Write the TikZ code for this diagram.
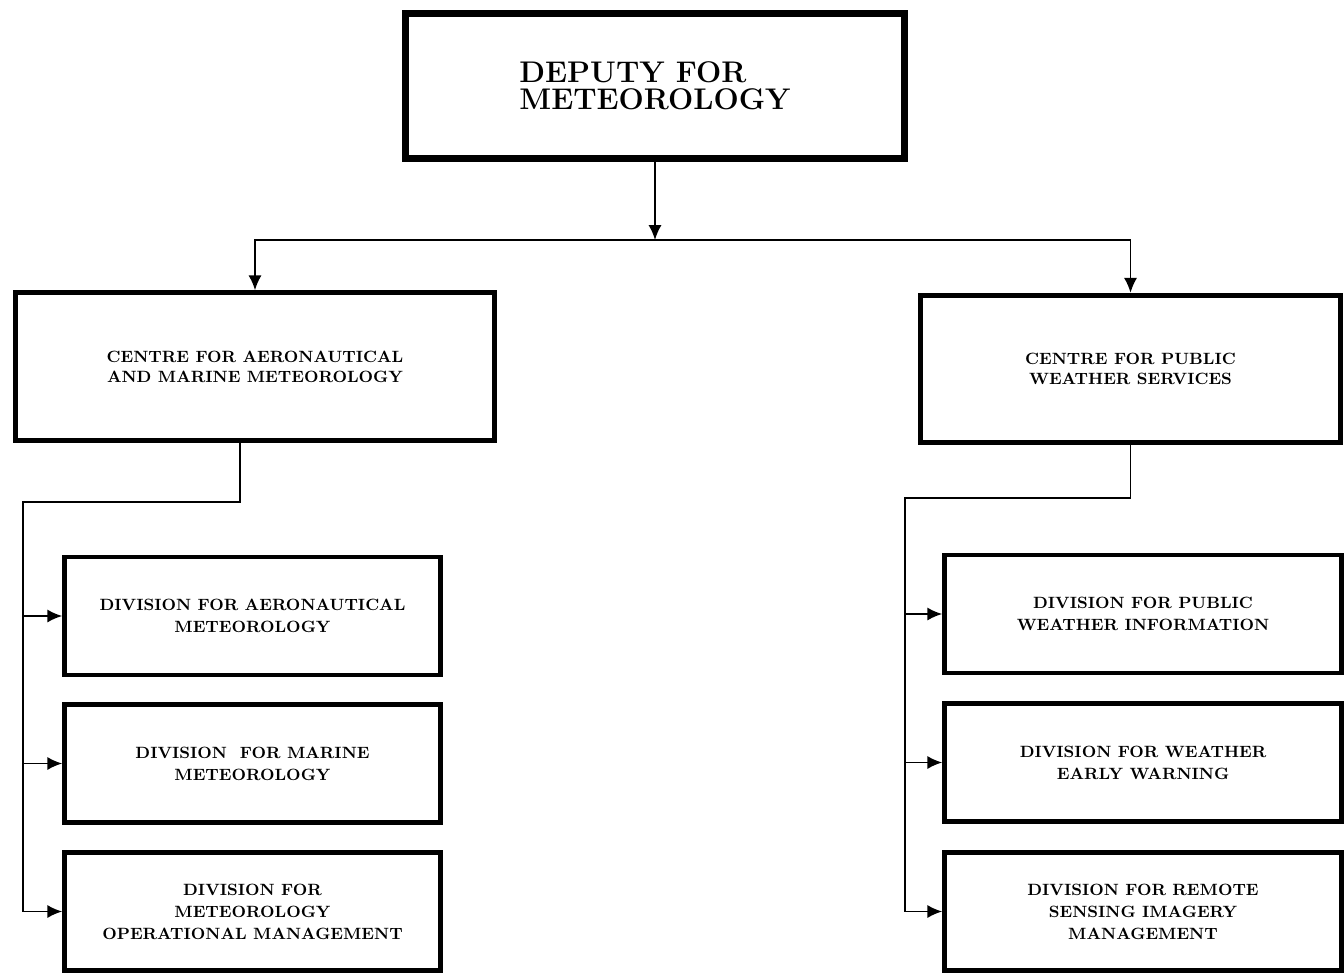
\documentclass[tikz,border=0pt]{standalone}
\usepackage{tikz}
\usetikzlibrary{arrows.meta,positioning}
\tikzstyle{arrow} = [line width=1.1pt,-{Latex[length=8.5pt,width=7.5pt]},color=black]
\tikzstyle{link} = [line width=1.1pt,color=black]
\tikzstyle{topnode} = [rectangle, draw=black, line width=4pt, minimum width=9.98cm, minimum height=2.9cm, inner sep=0pt, align=left, font=\fontsize{17}{15.5}\selectfont\bfseries]
\tikzstyle{centrenode} = [rectangle, draw=black, line width=2.8pt, minimum height=2.95cm, inner sep=0pt, align=center, font=\fontsize{9.3}{11.5}\selectfont\bfseries]
\tikzstyle{divnode} = [rectangle, draw=black, line width=2.6pt, minimum height=2.36cm, inner sep=0pt, align=center, font=\fontsize{9.3}{12.5}\selectfont\bfseries]

\begin{document}
\begin{tikzpicture}[x=0.02cm, y=-0.02cm]
\useasboundingbox (0,0) rectangle (1344,977);

% Deputy
\node[topnode] (deputy) at (655,86) {DEPUTY FOR\\METEOROLOGY};

% Centres
\node[centrenode, minimum width=9.58cm] (aeromar) at (255,366.5) {CENTRE FOR AERONAUTICAL\\AND MARINE METEOROLOGY};
\node[centrenode, minimum width=8.4cm] (pubweather) at (1130.5,369) {CENTRE FOR PUBLIC\\WEATHER SERVICES};

% Divisions (left)
\node[divnode, minimum width=7.52cm] (aerodiv) at (252.5,616) {DIVISION FOR AERONAUTICAL\\METEOROLOGY};
\node[divnode, minimum width=7.52cm] (marinediv) at (252.5,763.5) {DIVISION\ \ FOR MARINE\\METEOROLOGY};
\node[divnode, minimum width=7.52cm] (opsdiv) at (252.5,911.5) {DIVISION FOR\\METEOROLOGY\\OPERATIONAL MANAGEMENT};

% Divisions (right)
\node[divnode, minimum width=7.94cm] (pubinfodiv) at (1143,614) {DIVISION FOR PUBLIC\\WEATHER INFORMATION};
\node[divnode, minimum width=7.94cm] (warndiv) at (1143,762.5) {DIVISION FOR WEATHER\\EARLY WARNING};
\node[divnode, minimum width=7.94cm] (imagerydiv) at (1143,911.5) {DIVISION FOR REMOTE\\SENSING IMAGERY\\MANAGEMENT};

% Connectors
\coordinate (split) at (655,240);
\coordinate (ltap) at (240,443);
\coordinate (lbus) at (23,502);
\coordinate (rbus) at (905,498);

\draw[arrow] (deputy) -- (split);
\draw[arrow] (split) -| (aeromar);
\draw[arrow] (split) -| (pubweather);

\draw[link] (ltap) |- (lbus) -- (lbus |- opsdiv);
\draw[arrow] (lbus |- aerodiv) -- (aerodiv);
\draw[arrow] (lbus |- marinediv) -- (marinediv);
\draw[arrow] (lbus |- opsdiv) -- (opsdiv);

\draw[link] (pubweather) |- (rbus) -- (rbus |- imagerydiv);
\draw[arrow] (rbus |- pubinfodiv) -- (pubinfodiv);
\draw[arrow] (rbus |- warndiv) -- (warndiv);
\draw[arrow] (rbus |- imagerydiv) -- (imagerydiv);
\end{tikzpicture}
\end{document}
